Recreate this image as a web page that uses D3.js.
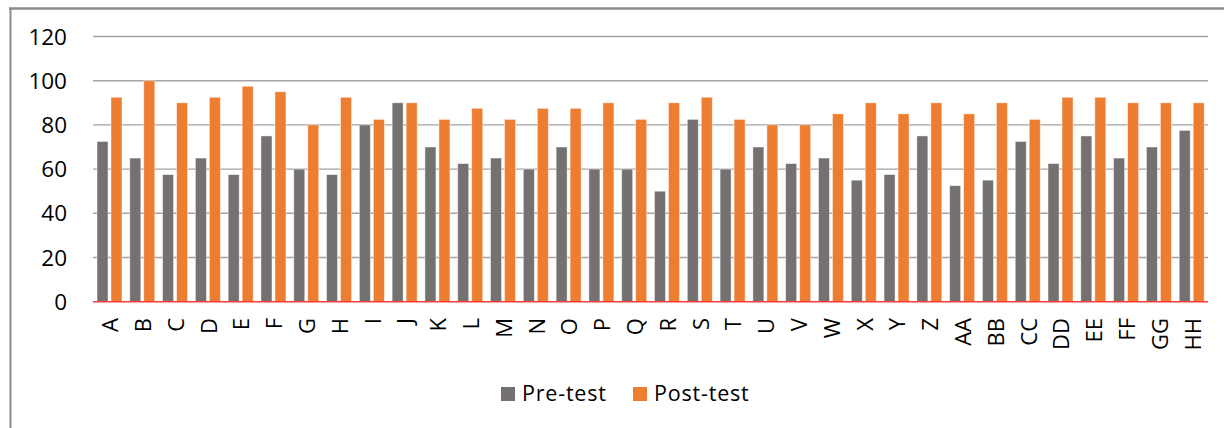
<!DOCTYPE html>
<html>
<head>
<meta charset="utf-8">
<script src="https://cdn.jsdelivr.net/npm/d3@7"></script>
<style>
  html, body { margin: 0; padding: 0; background: #fff; }
  svg { display: block; }
  text { font-family: "Open Sans", "Noto Sans", sans-serif; fill: #000; }
</style>
</head>
<body>
<svg id="chart" width="1224" height="428"></svg>
<script>
const categories = ["A","B","C","D","E","F","G","H","I","J","K","L","M","N","O","P","Q","R","S","T","U","V","W","X","Y","Z","AA","BB","CC","DD","EE","FF","GG","HH"];
const preTest  = [72.5,65,57.5,65,57.5,75,60,57.5,80,90,70,62.5,65,60,70,60,60,50,82.5,60,70,62.5,65,55,57.5,75,52.5,55,72.5,62.5,75,65,70,77.5];
const postTest = [92.5,100,90,92.5,97.5,95,80,92.5,82.5,90,82.5,87.5,82.5,87.5,87.5,90,82.5,90,92.5,82.5,80,80,85,90,85,90,85,90,82.5,92.5,92.5,90,90,90];
const seriesNames = ["Pre-test","Post-test"];
const seriesColors = ["#767171","#ed7d31"];
const yTicks = [0,20,40,60,80,100,120];

const svg = d3.select("#chart");

// chart frame (top and left border visible)
svg.append("line").attr("x1", 9).attr("x2", 1224).attr("y1", 8.5).attr("y2", 8.5)
  .attr("stroke", "#8c8c8c").attr("stroke-width", 2.5);
svg.append("line").attr("x1", 10.5).attr("x2", 10.5).attr("y1", 8).attr("y2", 428)
  .attr("stroke", "#8c8c8c").attr("stroke-width", 2);

const x = d3.scaleBand().domain(categories).range([93, 1208]).paddingInner(0).paddingOuter(0);
const xSub = d3.scaleBand().domain(seriesNames).range([4, 29]).paddingInner(0.214);
const y = d3.scaleLinear().domain([0, 120]).range([301.7, 36.5]);

// gridlines
svg.append("g").selectAll("line").data(yTicks.filter(d => d > 0)).join("line")
  .attr("x1", 93).attr("x2", 1208)
  .attr("y1", d => y(d)).attr("y2", d => y(d))
  .attr("stroke", "#a3a3a3").attr("stroke-width", 1.4);

// y labels
svg.append("g").selectAll("text").data(yTicks).join("text")
  .attr("x", 67).attr("y", d => y(d)).attr("dy", "0.36em")
  .attr("text-anchor", "end").attr("font-size", 22.5)
  .text(d => d);

// bars
const data = [preTest, postTest];
data.forEach((vals, si) => {
  svg.append("g").selectAll("rect").data(categories).join("rect")
    .attr("x", (c) => x(c) + xSub(seriesNames[si]))
    .attr("width", xSub.bandwidth())
    .attr("y", (c, i) => y(vals[i]))
    .attr("height", (c, i) => y(0) - y(vals[i]))
    .attr("fill", seriesColors[si])
    .attr("stroke", "rgba(255,255,255,0.55)").attr("stroke-width", 0.8);
});

// zero line (red)
svg.append("line").attr("x1", 93).attr("x2", 1208).attr("y1", y(0)).attr("y2", y(0))
  .attr("stroke", "#ff3b3b").attr("stroke-width", 1.6);

// x labels, rotated
svg.append("g").selectAll("text").data(categories).join("text")
  .attr("transform", d => `translate(${x(d) + x.bandwidth()/2 + 1},318) rotate(-90)`)
  .attr("text-anchor", "end").attr("dy", "0.36em")
  .attr("font-size", 22)
  .text(d => d);

// legend
const legendItems = [{name: seriesNames[0], color: seriesColors[0], x: 501}, {name: seriesNames[1], color: seriesColors[1], x: 633}];
const lg = svg.append("g");
legendItems.forEach(it => {
  lg.append("rect").attr("x", it.x).attr("y", 387).attr("width", 14).attr("height", 14).attr("fill", it.color);
  lg.append("text").attr("x", it.x + 21).attr("y", 401).attr("font-size", 21.5)
    .attr("letter-spacing", 0.8).text(it.name);
});
</script>
</body>
</html>
